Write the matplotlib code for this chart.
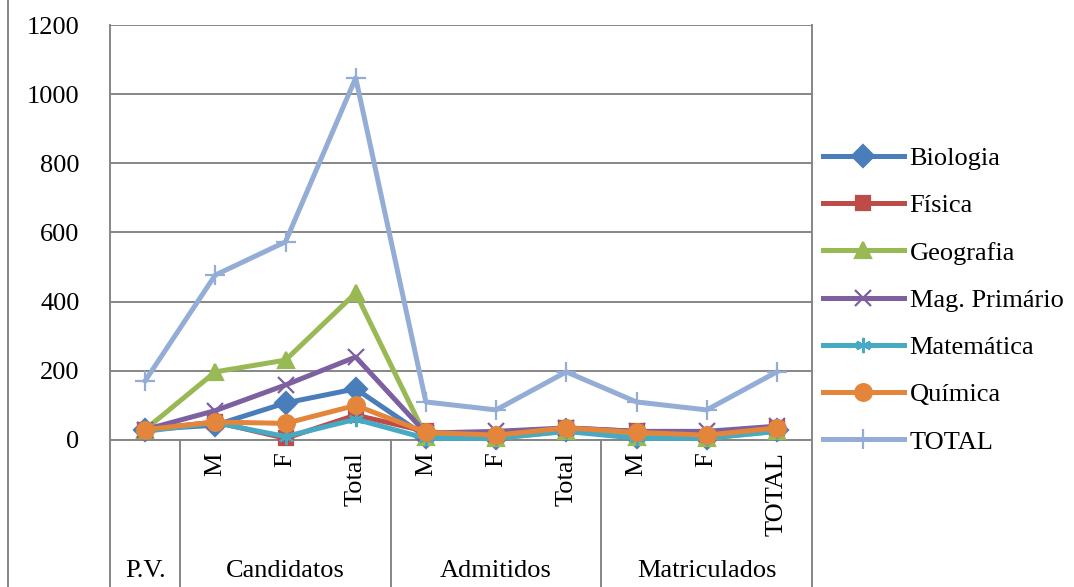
import matplotlib.pyplot as plt
import matplotlib.transforms as mtransforms

plt.rcParams['font.family'] = ['Liberation Serif', 'DejaVu Serif']

cats = ['P.V.', 'M', 'F', 'Total', 'M', 'F', 'Total', 'M', 'F', 'TOTAL']
groups = ['P.V.', 'Candidatos', 'Admitidos', 'Matriculados']
group_span = [(0, 0), (1, 3), (4, 6), (7, 9)]

biologia = [30, 43, 107, 148, 10, 5, 30, 10, 5, 30]
fisica = [30, 52, 5, 72, 25, 5, 35, 25, 5, 35]
geografia = [30, 197, 231, 425, 10, 5, 25, 10, 5, 25]
mag_primario = [30, 85, 159, 240, 20, 25, 35, 25, 25, 40]
matematica = [25, 50, 10, 60, 5, 5, 25, 5, 5, 25]
quimica = [30, 52, 48, 100, 22, 14, 35, 22, 14, 35]
total = [171, 477, 573, 1047, 110, 87, 197, 110, 87, 197]

series = [
    ('Biologia', biologia, '#4A7EBB', 'D', 11),
    ('Física', fisica, '#BE4B48', 's', 10),
    ('Geografia', geografia, '#98B954', '^', 12),
    ('Mag. Primário', mag_primario, '#7D60A0', 'x', 11),
    ('Matemática', matematica, '#46AAC5', (6, 2, 0), 11),
    ('Química', quimica, '#E3853B', 'o', 12),
    ('TOTAL', total, '#94ADD6', '+', 14),
]

fig = plt.figure(figsize=(10.74, 5.87), dpi=100)
ax = fig.add_axes([110 / 1074, 147 / 587, 702 / 1074, 415 / 587])

x = list(range(len(cats)))
for name, vals, col, mk, ms in series:
    ax.plot(x, vals, color=col, lw=3.6, marker=mk, ms=ms, mew=1.6,
            mec=col, mfc=col, label=name, clip_on=False, zorder=3)

ax.set_xlim(-0.5, 9.5)
ax.set_ylim(0, 1200)
ax.set_yticks(range(0, 1201, 200))
ax.yaxis.grid(True, color='#868686', lw=1.4)
ax.set_axisbelow(True)
ax.tick_params(axis='y', length=0, labelsize=19, pad=22)
ax.set_xticks([])
ax.spines['top'].set_visible(False)
for s in ['left', 'bottom', 'right']:
    ax.spines[s].set_color('#868686')
    ax.spines[s].set_linewidth(1.4)

trans = mtransforms.blended_transform_factory(ax.transData, ax.transAxes)
bottom_y = -147 / 415
for xs in [-0.5, 0.5, 3.5, 6.5, 9.5]:
    ax.plot([xs, xs], [0, bottom_y], transform=trans, color='#868686',
            lw=1.4, clip_on=False)

for i, c in enumerate(cats):
    if i == 0:
        continue
    ax.text(i, -12 / 415, c, transform=trans, rotation=90, ha='center',
            va='top', fontsize=19)

for g, (a, b) in zip(groups, group_span):
    ax.text((a + b) / 2, -131 / 415, g, transform=trans, ha='center',
            va='center', fontsize=19)

fig.add_artist(plt.Line2D([8 / 1074, 8 / 1074], [0, 1], color='#868686',
                          lw=1.4))

ax.legend(loc='center left', bbox_to_anchor=(1.0, 0.337), frameon=False,
          fontsize=19, handlelength=3.1, handletextpad=0.2,
          labelspacing=0.9, borderaxespad=0.0)

fig.savefig('out.png', dpi=100)
